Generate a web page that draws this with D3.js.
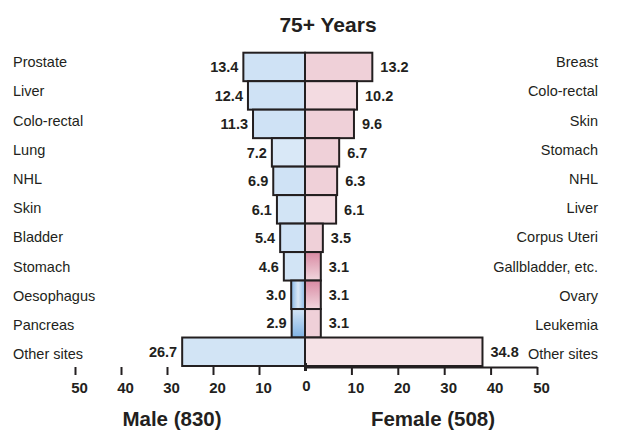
<!DOCTYPE html>
<html>
<head>
<meta charset="utf-8">
<script src="https://cdn.jsdelivr.net/npm/d3@7"></script>
<style>
  html, body { margin: 0; padding: 0; background: #fff; }
  svg { display: block; font-family: "Liberation Sans", Arial, Helvetica, sans-serif; }
</style>
</head>
<body>
<svg id="chart" width="619" height="430"></svg>
<script>
// ---- data ----
const title = "75+ Years";
const maleSites = ["Prostate", "Liver", "Colo-rectal", "Lung", "NHL", "Skin", "Bladder", "Stomach", "Oesophagus", "Pancreas", "Other sites"];
const maleValues = [13.4, 12.4, 11.3, 7.2, 6.9, 6.1, 5.4, 4.6, 3.0, 2.9, 26.7];
const femaleSites = ["Breast", "Colo-rectal", "Skin", "Stomach", "NHL", "Liver", "Corpus Uteri", "Gallbladder, etc.", "Ovary", "Leukemia", "Other sites"];
const femaleValues = [13.2, 10.2, 9.6, 6.7, 6.3, 6.1, 3.5, 3.1, 3.1, 3.1, 34.8];
const maleTicks = [50, 40, 30, 20, 10];
const femaleTicks = [0, 10, 20, 30, 40, 50];
const maleLabel = "Male (830)";
const femaleLabel = "Female (508)";

// ---- styles ----
const ink = "#231f20";
const maleFill = ["#cfe2f5", "#cfe2f5", "#cfe2f5", "#d9e8f7", "#cfe2f5", "#d2e4f5", "#cfe2f5", "#d2e4f5", "url(#gBlueH)", "url(#gBlueV)", "#d2e4f5"];
const femaleFill = ["#efd0d8", "#f3dbe1", "#efd0d8", "#efd0d8", "#efd0d8", "#f3dbe1", "#efd0d8", "url(#gPink)", "url(#gPink)", "#efd0d8", "#f5e2e6"];

const svg = d3.select("#chart");
const defs = svg.append("defs");
const gH = defs.append("linearGradient").attr("id", "gBlueH").attr("x1", 0).attr("x2", 1).attr("y1", 0).attr("y2", 0);
gH.append("stop").attr("offset", "0%").attr("stop-color", "#86b6e4");
gH.append("stop").attr("offset", "50%").attr("stop-color", "#dbe9f7");
gH.append("stop").attr("offset", "100%").attr("stop-color", "#8dbbe6");
const gV = defs.append("linearGradient").attr("id", "gBlueV").attr("x1", 0).attr("x2", 0).attr("y1", 0).attr("y2", 1);
gV.append("stop").attr("offset", "0%").attr("stop-color", "#d4e5f6");
gV.append("stop").attr("offset", "100%").attr("stop-color", "#7fb2e3");
const gP = defs.append("linearGradient").attr("id", "gPink").attr("x1", 0).attr("x2", 0).attr("y1", 0).attr("y2", 1);
gP.append("stop").attr("offset", "0%").attr("stop-color", "#d98aa3");
gP.append("stop").attr("offset", "100%").attr("stop-color", "#f1d7de");

// ---- scales ----
const x0 = 305;
const xMale = d3.scaleLinear().domain([0, 50]).range([x0, 75]);
const xFemaleAxis = d3.scaleLinear().domain([0, 50]).range([x0, 537]);
const xFemaleBar = d3.scaleLinear().domain([0, 50]).range([x0, 560]);
const idx = d3.range(maleSites.length);
const yBand = d3.scaleBand().domain(idx).range([52.7, 366]).padding(0);
const yLabel = d3.scalePoint().domain(idx).range([62, 354]);

// title
svg.append("text").attr("x", 328).attr("y", 32).attr("text-anchor", "middle")
  .attr("font-size", 21).attr("font-weight", "bold").attr("fill", ink).text(title);

// bars
svg.append("g").selectAll("rect").data(idx).join("rect")
  .attr("x", i => xMale(maleValues[i]))
  .attr("y", i => yBand(i))
  .attr("width", i => x0 - xMale(maleValues[i]))
  .attr("height", yBand.bandwidth())
  .attr("fill", i => maleFill[i])
  .attr("stroke", ink).attr("stroke-width", 2);

svg.append("g").selectAll("rect").data(idx).join("rect")
  .attr("x", x0)
  .attr("y", i => yBand(i))
  .attr("width", i => xFemaleBar(femaleValues[i]) - x0)
  .attr("height", yBand.bandwidth())
  .attr("fill", i => femaleFill[i])
  .attr("stroke", ink).attr("stroke-width", 2);

// value labels
svg.append("g").selectAll("text").data(idx).join("text")
  .attr("x", i => xMale(maleValues[i]) - 5)
  .attr("y", i => yBand(i) + yBand.bandwidth() / 2)
  .attr("dy", "0.36em").attr("text-anchor", "end")
  .attr("font-size", 14.5).attr("font-weight", "bold").attr("fill", ink)
  .text(i => maleValues[i].toFixed(1));

svg.append("g").selectAll("text").data(idx).join("text")
  .attr("x", i => xFemaleBar(femaleValues[i]) + 8)
  .attr("y", i => yBand(i) + yBand.bandwidth() / 2)
  .attr("dy", "0.36em").attr("text-anchor", "start")
  .attr("font-size", 14.5).attr("font-weight", "bold").attr("fill", ink)
  .text(i => femaleValues[i].toFixed(1));

// category labels
svg.append("g").selectAll("text").data(idx).join("text")
  .attr("x", 13).attr("y", i => yLabel(i)).attr("dy", "0.36em")
  .attr("font-size", 14.5).attr("fill", ink).text(i => maleSites[i]);

svg.append("g").selectAll("text").data(idx).join("text")
  .attr("x", 598).attr("y", i => yLabel(i)).attr("dy", "0.36em").attr("text-anchor", "end")
  .attr("font-size", 14.5).attr("fill", ink).text(i => femaleSites[i]);

// axes
const axisY = 367;
const gm = svg.append("g").attr("transform", `translate(0,${axisY})`)
  .call(d3.axisBottom(xMale).tickValues(maleTicks).tickSize(8).tickSizeOuter(0).tickFormat(d3.format("d")));
gm.select(".domain").remove();
const gf = svg.append("g").attr("transform", `translate(0,${axisY})`)
  .call(d3.axisBottom(xFemaleAxis).tickValues(femaleTicks).tickSize(8).tickSizeOuter(0).tickFormat(d3.format("d")));
[gm, gf].forEach(g => {
  g.selectAll(".tick line").attr("stroke", ink).attr("stroke-width", 2);
  g.selectAll(".tick text").attr("y", 26).attr("dy", 0).attr("dx", 4)
    .attr("font-size", 15).attr("font-weight", "bold").attr("fill", ink)
    .attr("font-family", "Liberation Sans, Arial, sans-serif");
});
gf.select(".domain").attr("stroke", ink).attr("stroke-width", 2);
gf.selectAll(".tick").filter(d => d === 0).select("text").attr("dx", 1).attr("y", 24);
gf.selectAll(".tick").filter(d => d === 0).select("line").attr("stroke-width", 3).attr("y1", -4).attr("y2", 4);

// sex labels
svg.append("text").attr("x", 172).attr("y", 426).attr("text-anchor", "middle")
  .attr("font-size", 20.5).attr("font-weight", "bold").attr("fill", ink).text(maleLabel);
svg.append("text").attr("x", 433).attr("y", 426).attr("text-anchor", "middle")
  .attr("font-size", 20.5).attr("font-weight", "bold").attr("fill", ink).text(femaleLabel);
</script>
</body>
</html>
